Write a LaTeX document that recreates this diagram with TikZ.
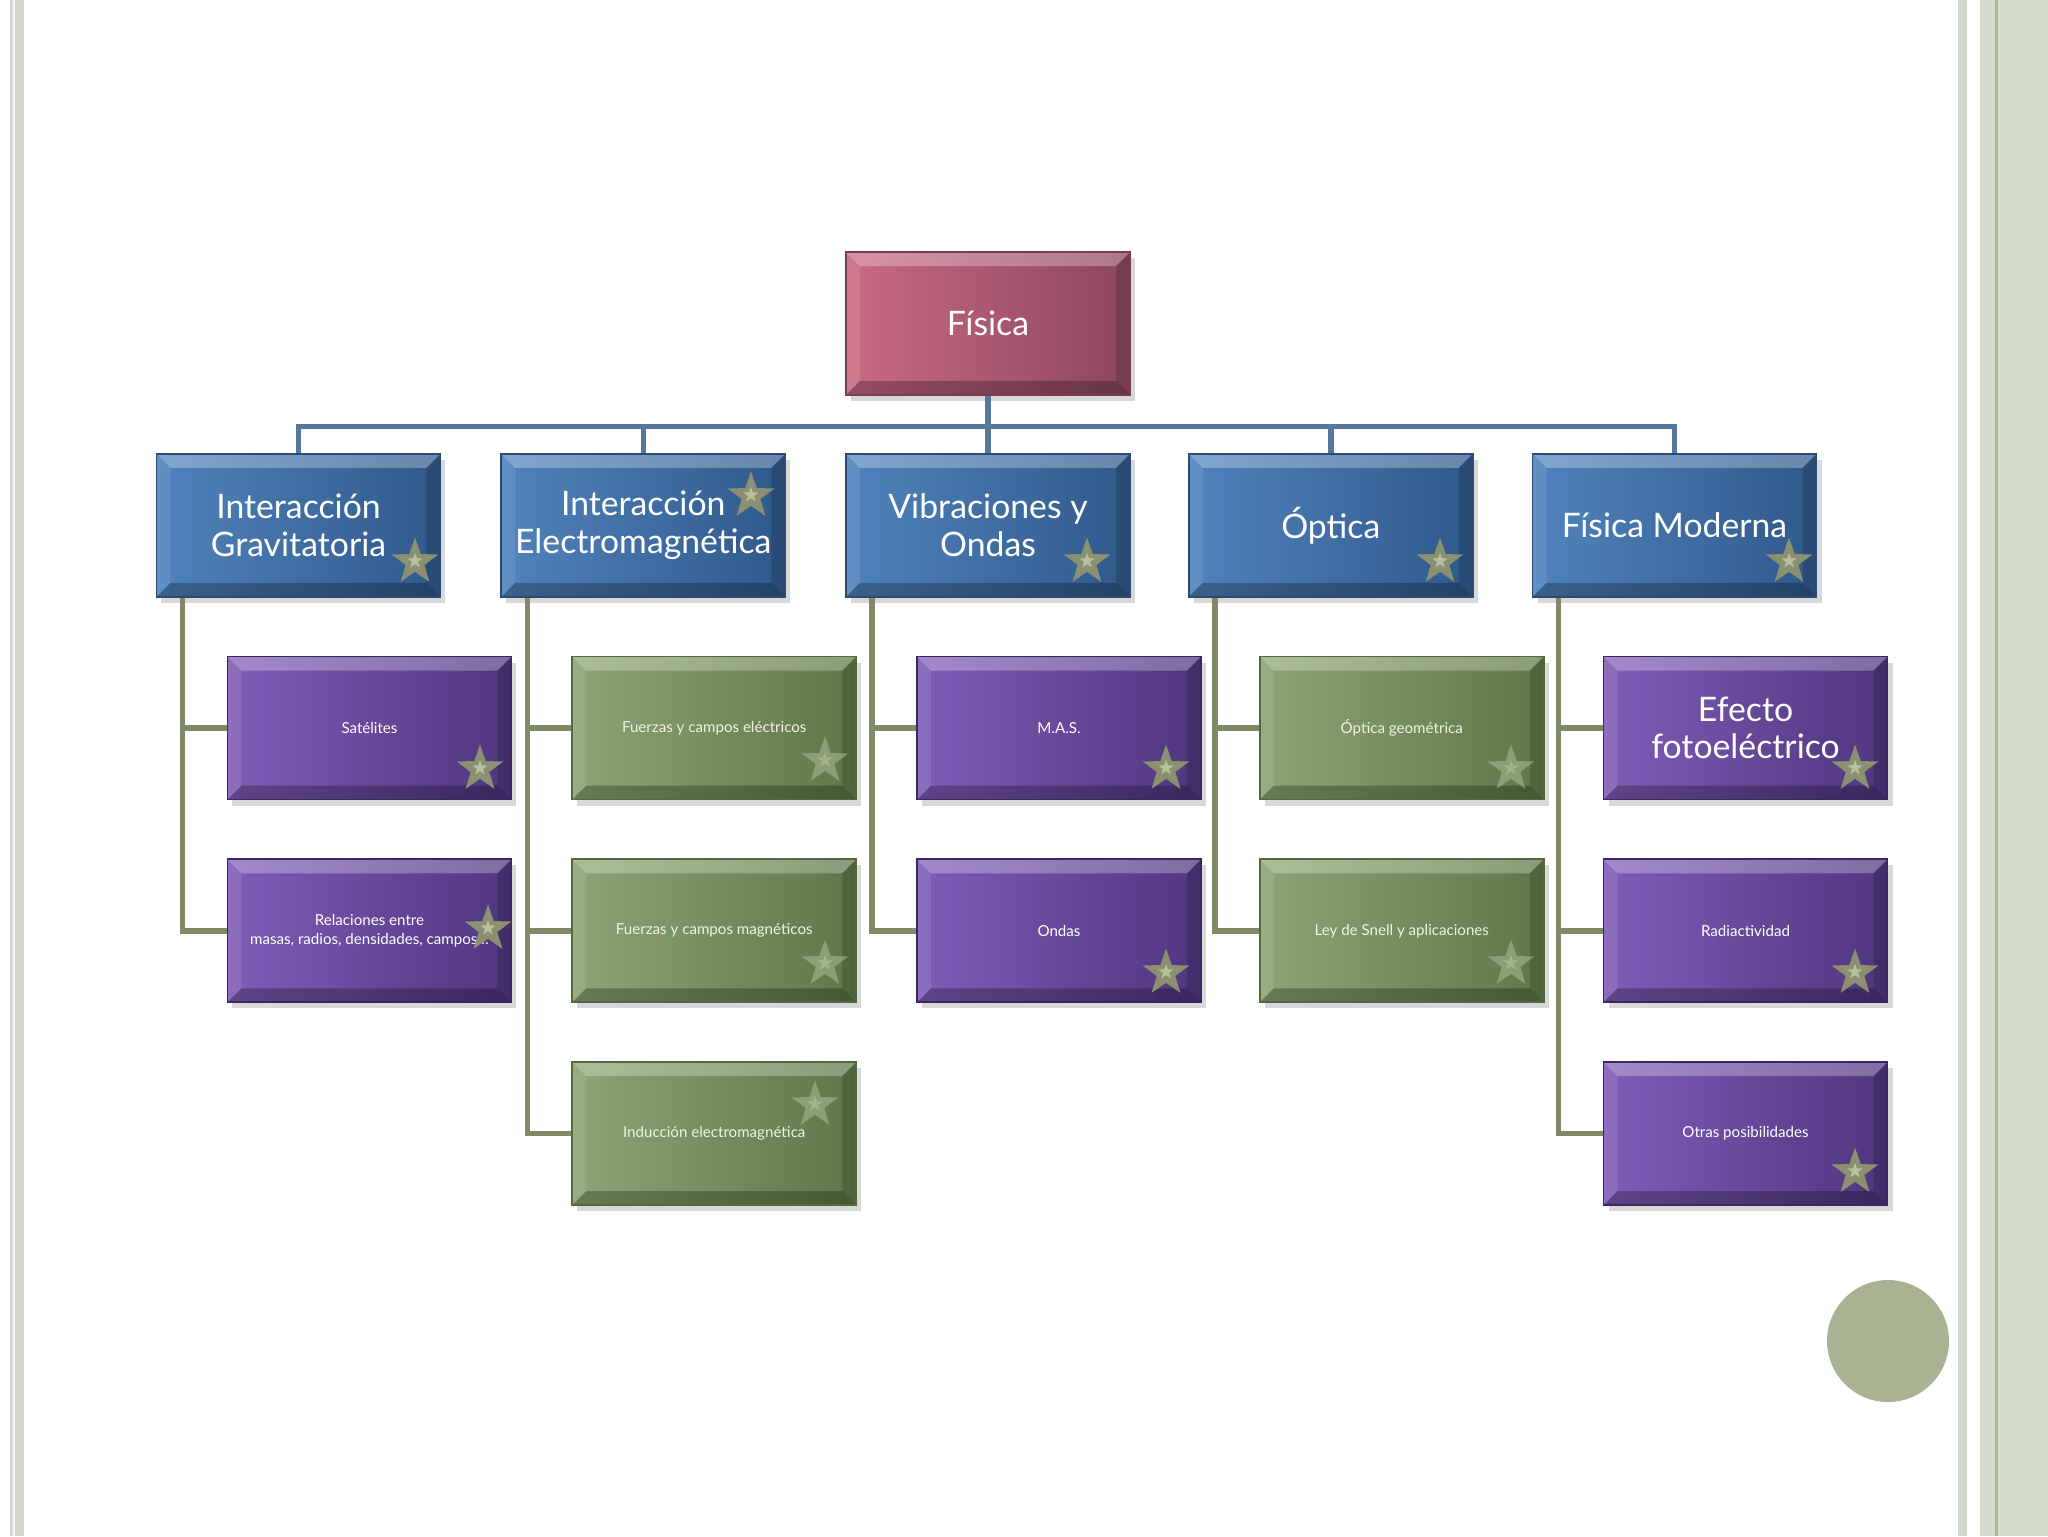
\documentclass[tikz,border=0pt]{standalone}
\usepackage{fontspec}
\setmainfont{Lato}
\usepackage{tikz}
\usetikzlibrary{positioning, shapes.geometric, shadows}
\definecolor{rootL}{HTML}{C96A82}
\definecolor{rootR}{HTML}{8C4661}
\definecolor{rootD}{HTML}{7A3B54}
\definecolor{topicL}{HTML}{5083BC}
\definecolor{topicR}{HTML}{30598B}
\definecolor{topicD}{HTML}{2B4B74}
\definecolor{leafL}{HTML}{7F5DB8}
\definecolor{leafR}{HTML}{4F357E}
\definecolor{leafD}{HTML}{3A2663}
\definecolor{sageL}{HTML}{8DA476}
\definecolor{sageR}{HTML}{5E7648}
\definecolor{sageD}{HTML}{55683F}
\definecolor{cream}{HTML}{F2F2E2}
\definecolor{starOl}{HTML}{8B9070}
\definecolor{starIn}{HTML}{B9C09E}
\definecolor{starPale}{HTML}{A6B890}
\definecolor{busBlue}{HTML}{58779C}
\definecolor{stemOl}{HTML}{7F8A66}
\definecolor{frameGr}{HTML}{D4D9CF}
\definecolor{frameSg}{HTML}{D6DCCB}
\definecolor{frameLn}{HTML}{A6B98F}
\definecolor{dotSg}{HTML}{A8B393}
\newcommand{\titlesize}{\fontsize{9.6}{10.6}\selectfont}
\newcommand{\leafsize}{\fontsize{4.3}{5.2}\selectfont}
\tikzset{
  bevel/.style={
    path picture={
      \fill[white, opacity=.28] (path picture bounding box.north west) -- (path picture bounding box.north east)
        -- ([shift={(-1.4mm,-1.4mm)}]path picture bounding box.north east) -- ([shift={(1.4mm,-1.4mm)}]path picture bounding box.north west) -- cycle;
      \fill[white, opacity=.10] (path picture bounding box.north west) -- ([shift={(1.4mm,-1.4mm)}]path picture bounding box.north west)
        -- ([shift={(1.4mm,1.4mm)}]path picture bounding box.south west) -- (path picture bounding box.south west) -- cycle;
      \fill[black, opacity=.16] (path picture bounding box.north east) -- ([shift={(-1.4mm,-1.4mm)}]path picture bounding box.north east)
        -- ([shift={(-1.4mm,1.4mm)}]path picture bounding box.south east) -- (path picture bounding box.south east) -- cycle;
      \fill[black, opacity=.26] (path picture bounding box.south west) -- ([shift={(1.4mm,1.4mm)}]path picture bounding box.south west)
        -- ([shift={(-1.4mm,1.4mm)}]path picture bounding box.south east) -- (path picture bounding box.south east) -- cycle;
    }
  },
  tile/.style={
    rectangle,
    minimum width=28.4mm,
    minimum height=14.3mm,
    inner sep=1mm,
    align=center,
    text=white,
    line width=.5pt,
    bevel,
    drop shadow={shadow xshift=.5mm, shadow yshift=-.6mm, opacity=.3}
  },
  rootbox/.style={tile, left color=rootL, right color=rootR, draw=rootD, font=\titlesize},
  topicbox/.style={tile, left color=topicL, right color=topicR, draw=topicD, font=\titlesize},
  leafbox/.style={tile, left color=leafL, right color=leafR, draw=leafD, font=\leafsize},
  sagebox/.style={tile, left color=sageL, right color=sageR, draw=sageD, text=cream, font=\leafsize},
  starbadge/.style={
    star,
    star points=5,
    star point ratio=2.5,
    minimum size=4.9mm,
    inner sep=0pt,
    fill=starOl,
    path picture={
      \node[star, star points=5, star point ratio=2.5, minimum size=1.6mm, inner sep=0pt, fill=starIn]
        at ([yshift=-.12mm]path picture bounding box.center) {};
    }
  },
  palebadge/.style={starbadge, fill=starPale, fill opacity=.6},
  busline/.style={draw=busBlue, line width=.55mm},
  stemline/.style={draw=stemOl, line width=.55mm}
}
\begin{document}
\begin{tikzpicture}[x=0.1mm, y=-0.1mm, node distance=5.7mm and 5.9mm]

\useasboundingbox (0,0) rectangle (2048,1536);
\fill[white] (0,0) rectangle (2048,1536);

% slide frame
\fill[frameGr] (10,0) rectangle (24,1536);
\fill[white!80!frameGr] (13,0) rectangle (15,1536);
\fill[frameGr] (1958,0) rectangle (1967,1536);
\fill[frameSg] (1980,0) rectangle (2048,1536);
\fill[frameLn] (1995,0) rectangle (1998,1536);
\fill[dotSg] (1888,1341) circle (6.1mm);

\node[rootbox] (fis) at (988,323.5) {Física};

\node[topicbox, below=of fis] (vib) {Vibraciones y\\ Ondas};
\node[topicbox, left=of vib] (ie) {Interacción\\ Electromagnética};
\node[topicbox, left=of ie] (ig) {Interacción\\ Gravitatoria};
\node[topicbox, right=5.7mm of vib] (opt) {Óptica};
\node[topicbox, right=5.8mm of opt] (fm) {Física Moderna};

\node[leafbox, below=5.8mm of ig, xshift=7.1mm] (sat) {Satélites};
\node[leafbox, below=5.8mm of sat] (rel) {Relaciones entre\\ masas, radios, densidades, campos…};

\node[sagebox, below=5.8mm of ie, xshift=7.1mm] (fel) {Fuerzas y campos eléctricos};
\node[sagebox, below=5.8mm of fel] (fmag) {Fuerzas y campos magnéticos};
\node[sagebox, below=5.8mm of fmag] (ind) {Inducción electromagnética};

\node[leafbox, below=5.8mm of vib, xshift=7.1mm] (mas) {M.A.S.};
\node[leafbox, below=5.8mm of mas] (ond) {Ondas};

\node[sagebox, below=5.8mm of opt, xshift=7.1mm] (ogeo) {Óptica geométrica};
\node[sagebox, below=5.8mm of ogeo] (snell) {Ley de Snell y aplicaciones};

\node[leafbox, below=5.8mm of fm, xshift=7.1mm, font=\titlesize] (foto) {Efecto\\ fotoeléctrico};
\node[leafbox, below=5.8mm of foto] (rad) {Radiactividad};
\node[leafbox, below=5.8mm of rad] (otr) {Otras posibilidades};

% stars
\node[starbadge] (sig) at (415,562) {};
\node[starbadge] (sie) at (751,496) {};
\node[starbadge] (svib) at (1087,562) {};
\node[starbadge] (sopt) at (1440,562) {};
\node[starbadge] (sfm) at (1789,562) {};
\node[starbadge] (ssat) at (480,769) {};
\node[starbadge] (srel) at (488,929) {};
\node[palebadge] (sfel) at (825,761) {};
\node[palebadge] (sfmag) at (825,964) {};
\node[palebadge] (sind) at (815,1105) {};
\node[starbadge] (smas) at (1166,769) {};
\node[starbadge] (sond) at (1166,973) {};
\node[palebadge] (sogeo) at (1511,769) {};
\node[palebadge] (ssnell) at (1511,964) {};
\node[starbadge] (sfoto) at (1855,769) {};
\node[starbadge] (srad) at (1855,973) {};
\node[starbadge] (sotr) at (1855,1172) {};

% connectors
\draw[busline] (fis.south) -- ++(0,-3.05mm) -| (ig.north);
\draw[busline] (fis.south) -- ++(0,-3.05mm) -| (ie.north);
\draw[busline] (fis.south) -- (vib.north);
\draw[busline] (fis.south) -- ++(0,-3.05mm) -| (opt.north);
\draw[busline] (fis.south) -- ++(0,-3.05mm) -| (fm.north);

\coordinate (igc) at ([xshift=2.7mm]ig.south west);
\coordinate (iec) at ([xshift=2.7mm]ie.south west);
\coordinate (vibc) at ([xshift=2.7mm]vib.south west);
\coordinate (optc) at ([xshift=2.7mm]opt.south west);
\coordinate (fmc) at ([xshift=2.7mm]fm.south west);

\draw[stemline] (igc) |- (sat.west);
\draw[stemline] (igc) |- (rel.west);
\draw[stemline] (iec) |- (fel.west);
\draw[stemline] (iec) |- (fmag.west);
\draw[stemline] (iec) |- (ind.west);
\draw[stemline] (vibc) |- (mas.west);
\draw[stemline] (vibc) |- (ond.west);
\draw[stemline] (optc) |- (ogeo.west);
\draw[stemline] (optc) |- (snell.west);
\draw[stemline] (fmc) |- (foto.west);
\draw[stemline] (fmc) |- (rad.west);
\draw[stemline] (fmc) |- (otr.west);

\end{tikzpicture}
\end{document}
